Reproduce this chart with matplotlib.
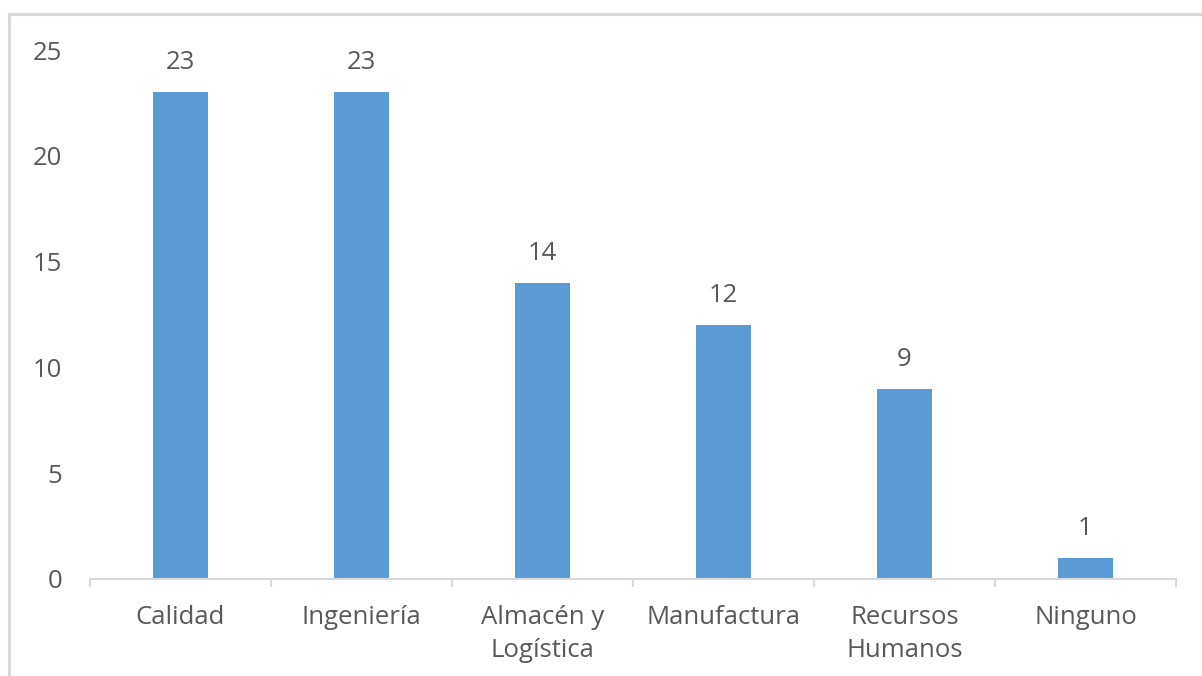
import matplotlib.pyplot as plt
from matplotlib.patches import Rectangle

categorias = ["Calidad", "Ingeniería", "Almacén y\nLogística", "Manufactura",
              "Recursos\nHumanos", "Ninguno"]
valores = [23, 23, 14, 12, 9, 1]
yticks = [0, 5, 10, 15, 20, 25]

azul = "#5B9BD5"
gris_texto = "#595959"
gris_linea = "#D9D9D9"
fs = 18.5

plt.rcParams['font.family'] = ['Open Sans', 'DejaVu Sans']

fig = plt.figure(figsize=(12.02, 6.76), dpi=100)
ax = fig.add_axes([90/1202, 1-579/676, (1176-90)/1202, (579-50)/676])

pos = list(range(len(categorias)))
bars = ax.bar(pos, valores, width=0.30, color=azul, zorder=2)

# etiquetas de valor encima de cada barra
for x, v in zip(pos, valores):
    ax.annotate(str(v), (x, v), xytext=(0, 16.5), textcoords="offset points",
                ha="center", va="baseline", fontsize=fs, color=gris_texto)

ax.set_xlim(-0.5, len(categorias) - 0.5)
ax.set_ylim(0, 25)
ax.set_yticks(yticks)
ax.set_xticks(pos)
ax.set_xticklabels(categorias, linespacing=1.42)
ax.set_xticks([p - 0.5 for p in pos] + [len(pos) - 0.5], minor=True)

ax.tick_params(axis="x", which="major", length=0, pad=19, labelsize=fs, colors=gris_texto)
ax.tick_params(axis="x", which="minor", length=6, width=1.5, color=gris_linea, direction="out")
ax.tick_params(axis="y", length=0, pad=20, labelsize=fs, colors=gris_texto)

for s in ["top", "right", "left"]:
    ax.spines[s].set_visible(False)
ax.spines["bottom"].set_color(gris_linea)
ax.spines["bottom"].set_linewidth(1.5)

# marco del grafico
marco = Rectangle((9/1202, -0.05), 1.1, 1-14/676+0.05, transform=fig.transFigure,
                  fill=False, edgecolor=gris_linea, linewidth=2.2, clip_on=False)
fig.patches.append(marco)

plt.savefig("out.png", dpi=100)
